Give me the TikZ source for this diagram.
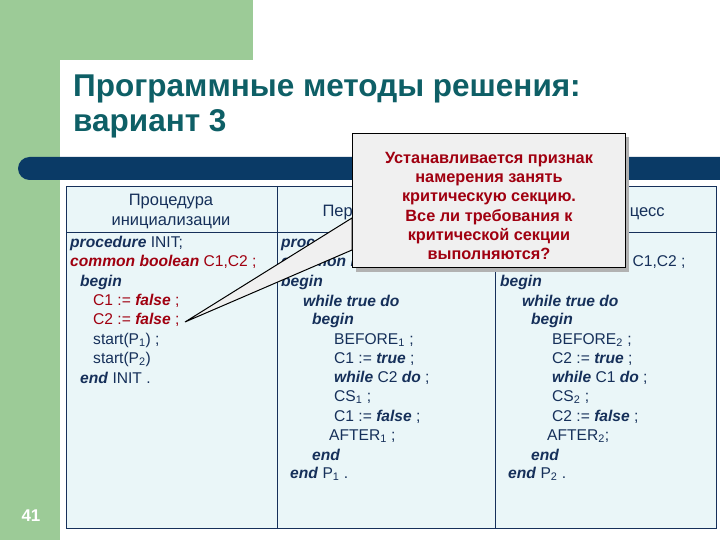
\documentclass[tikz,border=0pt]{standalone}
\usepackage{fontspec}
\setmainfont{Liberation Sans}
\definecolor{gr}{HTML}{9CCB97}
\definecolor{bar}{HTML}{0A3A66}
\definecolor{ttl}{HTML}{0E5F66}
\definecolor{tb}{HTML}{EAF6F8}
\definecolor{tx}{HTML}{16305A}
\definecolor{rd}{HTML}{A00010}
\begin{document}
\begin{tikzpicture}[x=1pt,y=-1pt,
  t/.style={anchor=west,inner sep=0pt,text=tx,font=\fontsize{15.6}{16}\selectfont},
  r/.style={t,text=rd},
  h/.style={inner sep=0pt,text=tx,font=\fontsize{16.5}{20}\selectfont,align=center}]
\useasboundingbox (0,0) rectangle (720,540);
\fill[white] (0,0) rectangle (720,540);
\fill[gr] (0,0) rectangle (253,60);
\fill[gr] (0,0) rectangle (60,540);
\fill[white] (60,80) arc[start angle=180,end angle=90,radius=20] -- (720,60) -- (720,540) -- (60,540) -- cycle;
\node[anchor=west,inner sep=0pt,text=ttl,font=\bfseries\fontsize{31.5}{35}\selectfont,align=left] (title) at (73,106) {Программные методы решения:\\вариант 3};
\begin{scope}
\clip (0,0) rectangle (720,540);
\fill[bar,rounded corners=11.5] (18,157) rectangle (760,180);
\end{scope}
\node[draw=tx,fill=tb,minimum width=650,minimum height=342,anchor=north west,inner sep=0pt] (tab) at (66,186) {};
\draw[tx] (66,232) -- (716,232);
\draw[tx] (277,186) -- (277,528) (495,186) -- (495,528);
\node[h] (h1) at (171,211) {Процедура\\инициализации};
\node[h] (h2) at (386,212) {Первый процесс};
\node[h] (h3) at (604,212) {Второй процесс};
% col1
\node[t] (a1) at (70,243) {\textit{\textbf{procedure}} INIT;};
\node[r] (a2) at (70,262) {\textit{\textbf{common boolean}} C1,C2 ;};
\node[t] (a3) at (80,282) {\textit{\textbf{begin}}};
\node[r] (a4) at (93,301) {C1 := \textit{\textbf{false}} ;};
\node[r] (a5) at (93,320) {C2 := \textit{\textbf{false}} ;};
\node[t] (a6) at (93,340) {start(P\textsubscript{1}) ;};
\node[t] (a7) at (93,359) {start(P\textsubscript{2})};
\node[t] (a8) at (80,378) {\textit{\textbf{end}} INIT .};
% col2
\node[t] (b1) at (281,243) {\textit{\textbf{procedure}} P\textsubscript{1} ;};
\node[t] (b2) at (281,262) {\textit{\textbf{common boolean}} C1,C2 ;};
\node[t] (b3) at (281,282) {\textit{\textbf{begin}}};
\node[t] (b4) at (303,301) {\textit{\textbf{while true do}}};
\node[t] (b5) at (312,320) {\textit{\textbf{begin}}};
\node[t] (b6) at (334,340) {BEFORE\textsubscript{1} ;};
\node[t] (b7) at (334,359) {C1 := \textit{\textbf{true}} ;};
\node[t] (b8) at (334,378) {\textit{\textbf{while}} C2 \textit{\textbf{do}} ;};
\node[t] (b9) at (334,397) {CS\textsubscript{1} ;};
\node[t] (b10) at (334,417) {C1 := \textit{\textbf{false}} ;};
\node[t] (b11) at (329,436) {AFTER\textsubscript{1} ;};
\node[t] (b12) at (312,455) {\textit{\textbf{end}}};
\node[t] (b13) at (290,474) {\textit{\textbf{end}} P\textsubscript{1} .};
% col3
\node[t] (c1) at (499,243) {\textit{\textbf{procedure}} P\textsubscript{2} ;};
\node[t] (c2) at (499,262) {\textit{\textbf{common boolean}} C1,C2 ;};
\node[t] (c3) at (500,282) {\textit{\textbf{begin}}};
\node[t] (c4) at (522,301) {\textit{\textbf{while true do}}};
\node[t] (c5) at (531,320) {\textit{\textbf{begin}}};
\node[t] (c6) at (552,340) {BEFORE\textsubscript{2} ;};
\node[t] (c7) at (552,359) {C2 := \textit{\textbf{true}} ;};
\node[t] (c8) at (552,378) {\textit{\textbf{while}} C1 \textit{\textbf{do}} ;};
\node[t] (c9) at (552,397) {CS\textsubscript{2} ;};
\node[t] (c10) at (552,417) {C2 := \textit{\textbf{false}} ;};
\node[t] (c11) at (547,436) {AFTER\textsubscript{2};};
\node[t] (c12) at (531,455) {\textit{\textbf{end}}};
\node[t] (c13) at (508,474) {\textit{\textbf{end}} P\textsubscript{2} .};
\node[text=white,font=\bfseries\fontsize{17}{18}\selectfont] (pg) at (31,516) {41};
% callout
\coordinate (tip) at (185,322);
\fill[black!30] (356,137) rectangle (629,272);
\node[draw=black,line width=1.4pt,fill=black!6,minimum width=273,minimum height=134,anchor=north west,inner sep=0pt] (co) at (352,133) {};
\filldraw[fill=black!6,draw=black,line width=1pt] (tip) -- (352,218) -- (352,250) -- cycle;
\fill[black!6] (353,216) rectangle (356,252);
\node[inner sep=0pt,align=center,text=rd,font=\bfseries\fontsize{16.3}{19.3}\selectfont] (ct) at (489,206) {Устанавливается признак\\намерения занять\\критическую секцию.\\Все ли требования к\\критической секции\\выполняются?};
\end{tikzpicture}
\end{document}
